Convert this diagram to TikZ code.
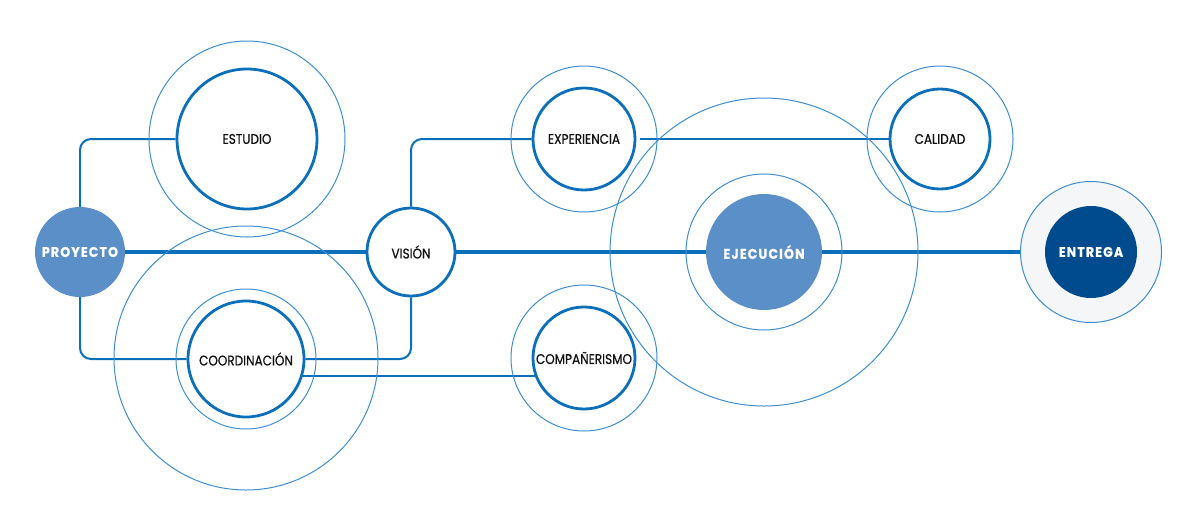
\documentclass[tikz,border=0pt]{standalone}
\usepackage{fontspec}
\setmainfont{Poppins}
\newfontfamily\labfam{Poppins}[FakeStretch=0.86, FakeBold=0.6]
\newfontfamily\boldfam{Poppins}[FakeStretch=0.9, LetterSpace=8, UprightFont=*, BoldFont=* Bold, BoldFeatures={FakeBold=0.8}]
\usetikzlibrary{backgrounds}
\definecolor{linecol}{HTML}{0B6FBA}
\definecolor{ringcol}{HTML}{3D8ED2}
\definecolor{fillblue}{HTML}{5A8FC8}
\definecolor{navy}{HTML}{004B8D}
\definecolor{palegray}{HTML}{F4F6F8}
\definecolor{labcol}{HTML}{111111}
\newcommand{\labfont}{\labfam\fontsize{14}{16}\selectfont\color{labcol}}
\newcommand{\boldlab}{\boldfam\fontsize{14}{16}\selectfont\bfseries\color{white}}
\begin{document}
\begin{tikzpicture}[x=1pt,y=-1pt,
  ring/.style={circle, draw=ringcol, line width=1pt, inner sep=0pt},
  innerc/.style={circle, draw=linecol, line width=2.8pt, fill=white, inner sep=0pt, font=\labfont},
  filledc/.style={circle, fill=fillblue, inner sep=0pt, font=\boldlab},
  conn/.style={draw=linecol, line width=2pt, rounded corners=11pt},
  mainline/.style={draw=linecol, line width=4pt}]
\useasboundingbox (0,0) rectangle (1198,520);
% outer rings
\node[ring, minimum size=196pt] (estR) at (247,139) {};
\node[ring, minimum size=264pt] (coordBig) at (246,358) {};
\node[ring, minimum size=140pt] (coordR) at (246,359) {};
\node[ring, minimum size=146pt] (expR) at (584,139) {};
\node[ring, minimum size=146pt] (compR) at (584,358) {};
\node[ring, minimum size=308pt] (ejecBig) at (764,252) {};
\node[ring, minimum size=156pt] (ejecR) at (764,252) {};
\node[ring, minimum size=146pt] (calR) at (940,139) {};
% inner circles
\node[innerc, minimum size=140pt] (est) at (247,139) {ESTUDIO};
\node[innerc, minimum size=116pt] (coord) at (246,359) {COORDINACIÓN};
\node[innerc, minimum size=88pt] (vis) at (411,252) {VISIÓN};
\node[innerc, minimum size=102pt] (exp) at (584,139) {EXPERIENCIA};
\node[innerc, minimum size=102pt] (comp) at (584,358) {COMPAÑERISMO};
\node[innerc, minimum size=100pt] (cal) at (940,139) {CALIDAD};
% filled circles
\node[filledc, minimum size=90pt] (proy) at (80,252) {PROYECTO};
\node[filledc, minimum size=116pt] (ejec) at (764,252) {EJECUCIÓN};
\node[circle, draw=ringcol, line width=1pt, fill=palegray, inner sep=0pt, minimum size=141pt] (entR) at (1091,252) {};
\node[filledc, fill=navy, minimum size=92pt] (ent) at (1091,252) {ENTREGA};
% connectors
\begin{scope}[on background layer]
\draw[conn] (proy) |- (est);
\draw[conn] (proy) |- (coord);
\draw[conn] (coord) -| (vis);
\draw[conn] (vis) |- (exp);
\draw[conn, shorten <=4pt] (exp) -- (cal);
\draw[conn] ([yshift=-17pt]coord.center) -- ([yshift=-17pt]coord.center -| comp.center);
\draw[mainline] (proy) -- (vis);
\draw[mainline] (vis) -- (ejec);
\draw[mainline] (ejec) -- (entR);
\end{scope}
\end{tikzpicture}
\end{document}
